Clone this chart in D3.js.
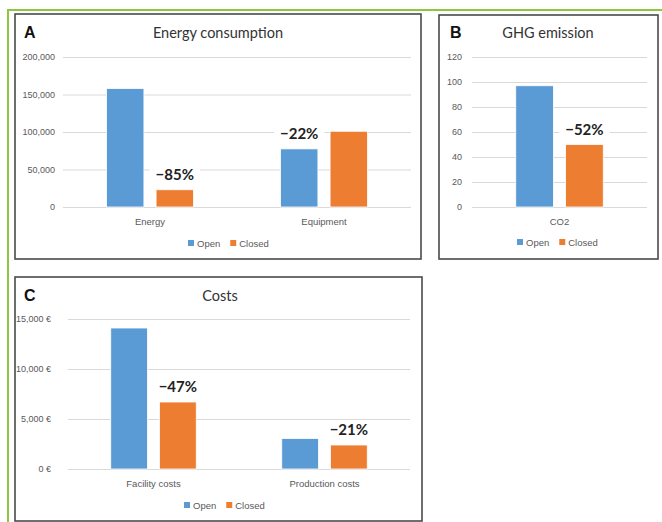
<!DOCTYPE html>
<html>
<head>
<meta charset="utf-8">
<script src="https://cdn.jsdelivr.net/npm/d3@7"></script>
<style>
  html, body { margin: 0; padding: 0; background: #fff; }
  svg { display: block; font-family: Lato, "Liberation Sans", sans-serif; }
  .tick text { fill: #595959; }
</style>
</head>
<body>
<svg id="chart" width="662" height="522"></svg>
<script>
// Series names and colours
const seriesNames = ["Open", "Closed"];
const seriesColors = ["#5B9BD5", "#ED7D31"];

// A: energy consumption
const energyCategories = ["Energy", "Equipment"];
const energyOpen = [158000, 77500];
const energyClosed = [23000, 101000];
const energyTicks = [0, 50000, 100000, 150000, 200000];
const energyChange = ["−85%", "−22%"];
const energyChangeSeries = [1, 0];

// B: GHG emission
const ghgCategories = ["CO2"];
const ghgOpen = [97];
const ghgClosed = [50];
const ghgTicks = [0, 20, 40, 60, 80, 100, 120];
const ghgChange = ["−52%"];
const ghgChangeSeries = [1];

// C: costs
const costCategories = ["Facility costs", "Production costs"];
const costOpen = [14100, 3050];
const costClosed = [6700, 2400];
const costTicks = [0, 5000, 10000, 15000];
const costChange = ["−47%", "−21%"];
const costChangeSeries = [1, 1];

const svg = d3.select("#chart");

// Green frame along the top and left edge
svg.append("line").attr("x1", 7).attr("x2", 662).attr("y1", 10).attr("y2", 10)
  .attr("stroke", "#8DC63F").attr("stroke-width", 2);
svg.append("line").attr("x1", 8).attr("x2", 8).attr("y1", 9).attr("y2", 522)
  .attr("stroke", "#8DC63F").attr("stroke-width", 2);

function drawPanel(p) {
  const g = svg.append("g");

  // panel box
  g.append("rect")
    .attr("x", p.box[0]).attr("y", p.box[1])
    .attr("width", p.box[2] - p.box[0]).attr("height", p.box[3] - p.box[1])
    .attr("fill", "#fff").attr("stroke", "#4a4a4a").attr("stroke-width", 1.6);

  // panel letter and title
  g.append("text").attr("x", p.letterPos[0]).attr("y", p.letterPos[1])
    .attr("font-family", "'Liberation Sans', Arial, sans-serif")
    .attr("font-weight", "bold").attr("font-size", 16).attr("fill", "#111")
    .text(p.letter);
  g.append("text").attr("x", p.titlePos[0]).attr("y", p.titlePos[1])
    .attr("text-anchor", "middle").attr("font-size", 14.5).attr("fill", "#333")
    .text(p.title);

  const y = d3.scaleLinear().domain([0, d3.max(p.ticks)]).range([p.plot[3], p.plot[2]]);
  const x0 = d3.scaleBand().domain(p.categories).range([p.plot[0], p.plot[1]]);
  const x1 = d3.scaleBand().domain(seriesNames)
    .range([x0.bandwidth() * 0.25, x0.bandwidth() * 0.75]).paddingInner(0.245);

  // gridlines
  const grid = g.append("g").attr("transform", `translate(${p.plot[0]},0)`)
    .call(d3.axisLeft(y).tickValues(p.ticks).tickSize(-(p.plot[1] - p.plot[0])).tickFormat(""));
  grid.select(".domain").remove();
  grid.selectAll(".tick line").attr("stroke", "#d9d9d9").attr("stroke-width", 1.2);

  // y tick labels
  const yAxis = g.append("g").attr("transform", `translate(${p.plot[0]},0)`)
    .call(d3.axisLeft(y).tickValues(p.ticks).tickSize(0).tickPadding(p.yPad).tickFormat(p.fmt));
  yAxis.select(".domain").remove();
  yAxis.selectAll("text").attr("font-size", 9).attr("font-family", "'Liberation Sans', Arial, sans-serif");

  // category labels
  const xAxis = g.append("g").attr("transform", `translate(0,${p.plot[3]})`)
    .call(d3.axisBottom(x0).tickSize(0).tickPadding(11));
  xAxis.select(".domain").remove();
  xAxis.selectAll("text").attr("font-size", 9.5).attr("font-family", "'Liberation Sans', Arial, sans-serif");

  // bars
  const rows = p.categories.map((c, i) => ({ cat: c, vals: [p.open[i], p.closed[i]] }));
  const groups = g.selectAll(".grp").data(rows).enter().append("g")
    .attr("transform", d => `translate(${x0(d.cat)},0)`);
  groups.selectAll("rect").data(d => d.vals.map((v, k) => ({ k, v }))).enter().append("rect")
    .attr("x", d => x1(seriesNames[d.k]))
    .attr("width", x1.bandwidth())
    .attr("y", d => y(d.v))
    .attr("height", d => y(0) - y(d.v))
    .attr("fill", d => seriesColors[d.k])
    .attr("stroke", "#fff").attr("stroke-width", 0.8);

  // change labels, on a white backing over the gridlines
  rows.forEach((r, i) => {
    const k = p.changeSeries[i];
    const cx = x0(r.cat) + x1(seriesNames[k]) + x1.bandwidth() / 2;
    const ty = y(r.vals[k]) - 10;
    const bg = g.append("rect").attr("fill", "#fff");
    const t = g.append("text").attr("x", cx).attr("y", ty).attr("text-anchor", "middle")
      .attr("font-weight", "bold").attr("font-size", 15).attr("fill", "#222")
      .text(p.change[i]);
    const bb = t.node().getBBox();
    bg.attr("x", bb.x - 6).attr("y", bb.y).attr("width", bb.width + 12).attr("height", bb.height);
  });

  // legend
  const lg = g.append("g").attr("transform", `translate(${p.legend[0]},${p.legend[1]})`);
  let lx = 0;
  seriesNames.forEach((s, k) => {
    lg.append("rect").attr("x", lx).attr("y", -3).attr("width", 6).attr("height", 6)
      .attr("fill", seriesColors[k]);
    const t = lg.append("text").attr("x", lx + 9).attr("y", 3.5).attr("font-size", 9.5)
      .attr("font-family", "'Liberation Sans', Arial, sans-serif").attr("fill", "#595959").text(s);
    lx += 9 + t.node().getComputedTextLength() + 10;
  });
}

drawPanel({
  letter: "A", title: "Energy consumption",
  box: [15, 14, 421, 259], plot: [63, 411, 57, 207],
  letterPos: [24, 38], titlePos: [218, 38], legend: [188, 243], yPad: 8,
  categories: energyCategories, open: energyOpen, closed: energyClosed,
  ticks: energyTicks, fmt: d3.format(","),
  change: energyChange, changeSeries: energyChangeSeries
});

drawPanel({
  letter: "B", title: "GHG emission",
  box: [439, 15, 658, 259], plot: [472, 647, 57, 207],
  letterPos: [450, 38], titlePos: [548, 38], legend: [517, 242], yPad: 10,
  categories: ghgCategories, open: ghgOpen, closed: ghgClosed,
  ticks: ghgTicks, fmt: d3.format("d"),
  change: ghgChange, changeSeries: ghgChangeSeries
});

drawPanel({
  letter: "C", title: "Costs",
  box: [15, 277, 422, 521], plot: [68, 410, 319, 469],
  letterPos: [24, 301], titlePos: [220, 301], legend: [184, 505], yPad: 17,
  categories: costCategories, open: costOpen, closed: costClosed,
  ticks: costTicks, fmt: d => d3.format(",")(d) + " €",
  change: costChange, changeSeries: costChangeSeries
});
</script>
</body>
</html>
